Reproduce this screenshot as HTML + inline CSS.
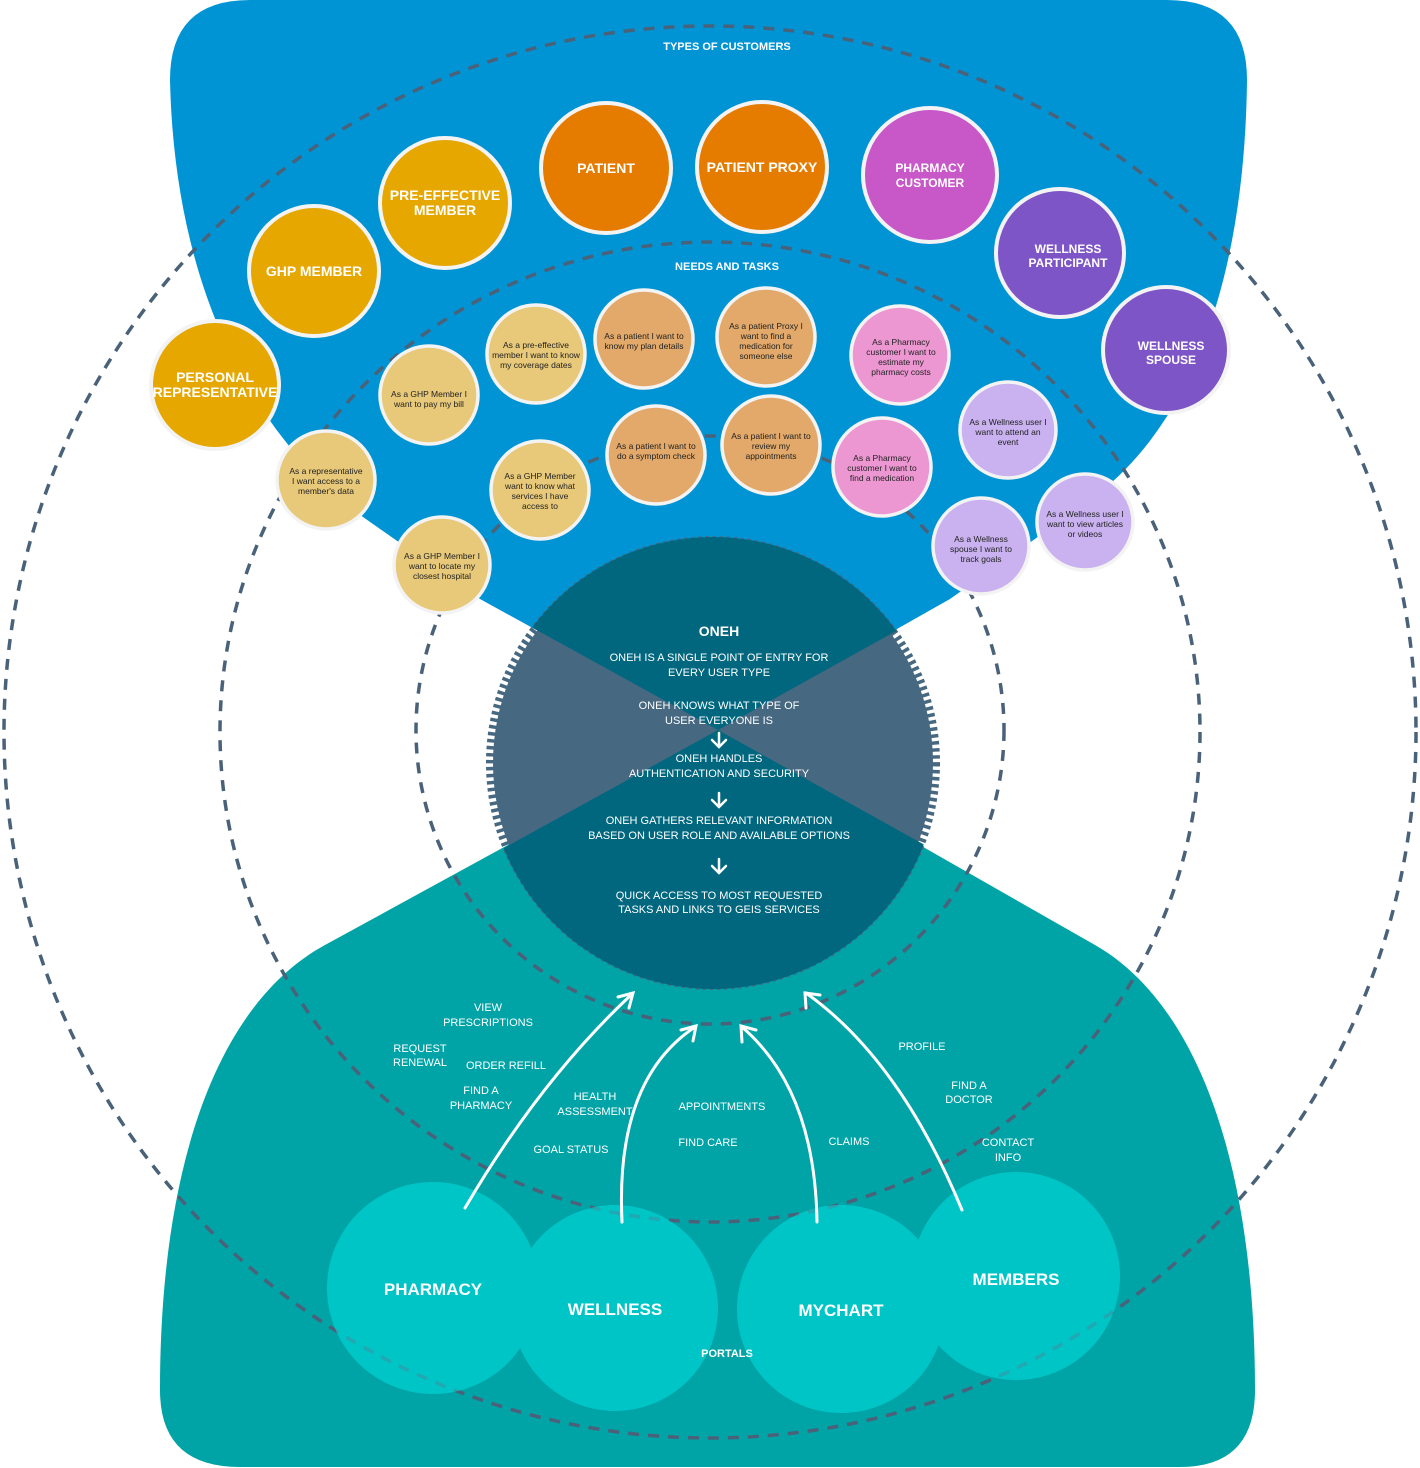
<!DOCTYPE html>
<html><head><meta charset="utf-8"><style>
html,body{margin:0;padding:0;background:#fff;}
svg{display:block;}
text{font-family:"Liberation Sans",sans-serif;}
.w{fill:#fff;text-anchor:middle;}
.s{fill:#222;text-anchor:middle;font-size:8.5px;}
.l{fill:#fff;text-anchor:middle;font-size:11px;}
</style></head><body>
<svg width="1420" height="1468" viewBox="0 0 1420 1468" xmlns="http://www.w3.org/2000/svg">
<defs>
<clipPath id="cc"><circle cx="713" cy="763" r="226"/></clipPath>
</defs>
<!-- blue top -->
<path d="M170,80 Q170,0 250,0 L1167,0 Q1247,0 1247,80 C1245,260 1200,420 1090,500 L950,599 L718,730 L480,599 L363,517 C260,440 175,300 170,80 Z" fill="#0094d4"/>
<!-- teal bottom -->
<path d="M718,730 L1095,945 C1200,1005 1255,1170 1255,1390 Q1255,1467 1180,1467 L240,1467 Q160,1467 160,1390 C160,1170 215,1005 325,945 Z" fill="#00a3a6"/>
<!-- center circle -->
<circle cx="713" cy="763" r="220" fill="#476881"/>
<circle cx="713" cy="763" r="223" fill="none" stroke="#476881" stroke-width="8" stroke-dasharray="3.5 3.5"/>
<g clip-path="url(#cc)">
<path d="M718,730 L250,472 L250,400 L1200,400 L1200,462 Z" fill="#00677f"/>
<path d="M718,730 L250,988 L250,1100 L1200,1100 L1200,998 Z" fill="#00677f"/>
</g>
<!-- dashed circles -->
<g fill="none" stroke="#4a6279" stroke-width="3.5" stroke-dasharray="11 9">
<circle cx="710" cy="732" r="706"/>
<circle cx="710" cy="732" r="490"/>
<circle cx="710" cy="730" r="294"/>
</g>
<!-- portals -->
<g fill="#00e2e2" opacity="0.55">
<circle cx="433" cy="1288" r="106"/>
<circle cx="615" cy="1308" r="103"/>
<circle cx="841" cy="1309" r="104"/>
<circle cx="1016" cy="1276" r="104"/>
</g>
<g class="w" font-weight="bold" font-size="17">
<text x="433" y="1295">PHARMACY</text>
<text x="615" y="1315">WELLNESS</text>
<text x="841" y="1316">MYCHART</text>
<text x="1016" y="1285">MEMBERS</text>
</g>
<text class="w" x="727" y="1357" font-size="11" font-weight="bold">PORTALS</text>
<!-- arrows -->
<g fill="none" stroke="#fff" stroke-width="3" stroke-linecap="round">
<path d="M465,1208 Q540,1080 632,994"/><path d="M618,997 L633,993 L629,1008"/>
<path d="M622,1222 Q615,1080 695,1027"/><path d="M681,1030 L696,1026 L693,1041"/>
<path d="M817,1222 Q815,1090 742,1027"/><path d="M742,1042 L741,1026 L756,1030"/>
<path d="M962,1210 Q900,1060 806,993"/><path d="M806,1008 L805,993 L820,995"/>
</g>
<g class="l">
<text x="488" y="1011">VIEW</text><text x="488" y="1026">PRESCRIPTIONS</text>
<text x="420" y="1052">REQUEST</text><text x="420" y="1066">RENEWAL</text>
<text x="506" y="1069">ORDER REFILL</text>
<text x="481" y="1094">FIND A</text><text x="481" y="1109">PHARMACY</text>
<text x="595" y="1100">HEALTH</text><text x="595" y="1115">ASSESSMENT</text>
<text x="571" y="1153">GOAL STATUS</text>
<text x="722" y="1110">APPOINTMENTS</text>
<text x="708" y="1146">FIND CARE</text>
<text x="849" y="1145">CLAIMS</text>
<text x="922" y="1050">PROFILE</text>
<text x="969" y="1089">FIND A</text><text x="969" y="1103">DOCTOR</text>
<text x="1008" y="1146">CONTACT</text><text x="1008" y="1161">INFO</text>
</g>
<!-- center text -->
<g class="w" font-size="11">
<text x="719" y="636" font-size="14" font-weight="bold">ONEH</text>
<text x="719" y="661">ONEH  IS A SINGLE POINT OF ENTRY FOR</text>
<text x="719" y="676">EVERY USER TYPE</text>
<text x="719" y="709">ONEH KNOWS WHAT TYPE OF</text>
<text x="719" y="724">USER EVERYONE IS</text>
<text x="719" y="762">ONEH HANDLES</text>
<text x="719" y="777">AUTHENTICATION AND SECURITY</text>
<text x="719" y="824">ONEH GATHERS RELEVANT INFORMATION</text>
<text x="719" y="839">BASED ON USER ROLE AND AVAILABLE OPTIONS</text>
<text x="719" y="899">QUICK ACCESS TO MOST REQUESTED</text>
<text x="719" y="913">TASKS AND LINKS TO GEIS SERVICES</text>
</g>
<g fill="none" stroke="#fff" stroke-width="2.5" stroke-linecap="round">
<path d="M719,733 V746 M712,740 L719,747 L726,740"/>
<path d="M719,793 V806 M712,800 L719,807 L726,800"/>
<path d="M719,859 V872 M712,866 L719,873 L726,866"/>
</g>
<!-- headings -->
<text class="w" x="727" y="50" font-size="11" font-weight="bold">TYPES OF CUSTOMERS</text>
<text class="w" x="727" y="270" font-size="11" font-weight="bold">NEEDS AND TASKS</text>
<!-- customers -->
<g stroke="#f3f3f3" stroke-width="4">
<circle cx="215" cy="385" r="64" fill="#e5a700"/>
<circle cx="314" cy="271" r="65" fill="#e5a700"/>
<circle cx="445" cy="203" r="65" fill="#e5a700"/>
<circle cx="606" cy="168" r="65" fill="#e57c00"/>
<circle cx="762" cy="167" r="65" fill="#e57c00"/>
<circle cx="930" cy="175" r="67" fill="#c857c8"/>
<circle cx="1060" cy="253" r="64" fill="#7d55c6"/>
<circle cx="1166" cy="350" r="63" fill="#7d55c6"/>
</g>
<g class="w" font-weight="bold" font-size="14">
<text x="215" y="382">PERSONAL</text><text x="215" y="397">REPRESENTATIVE</text>
<text x="314" y="276">GHP MEMBER</text>
<text x="445" y="200">PRE-EFFECTIVE</text><text x="445" y="215">MEMBER</text>
<text x="606" y="173">PATIENT</text>
<text x="762" y="172">PATIENT PROXY</text>
<text x="930" y="172" font-size="12">PHARMACY</text><text x="930" y="187" font-size="12">CUSTOMER</text>
<text x="1068" y="253" font-size="12">WELLNESS</text><text x="1068" y="267" font-size="12">PARTICIPANT</text>
<text x="1171" y="350" font-size="12">WELLNESS</text><text x="1171" y="364" font-size="12">SPOUSE</text>
</g>
<!-- needs -->
<g stroke="#f3f3f3" stroke-width="3.5">
<circle cx="326" cy="480" r="49" fill="#e8c97a"/>
<circle cx="429" cy="395" r="49" fill="#e8c97a"/>
<circle cx="536" cy="354" r="49" fill="#e8c97a"/>
<circle cx="540" cy="490" r="49" fill="#e8c97a"/>
<circle cx="442" cy="565" r="48" fill="#e8c97a"/>
<circle cx="644" cy="339" r="49" fill="#e2a96a"/>
<circle cx="766" cy="337" r="49" fill="#e2a96a"/>
<circle cx="656" cy="455" r="49" fill="#e2a96a"/>
<circle cx="771" cy="445" r="49" fill="#e2a96a"/>
<circle cx="900" cy="355" r="49" fill="#ec97d2"/>
<circle cx="882" cy="467" r="49" fill="#ec97d2"/>
<circle cx="1008" cy="430" r="48" fill="#c9b2ef"/>
<circle cx="981" cy="546" r="48" fill="#c9b2ef"/>
<circle cx="1085" cy="522" r="48" fill="#c9b2ef"/>
</g>
<g class="s">
<text x="326" y="474">As a representative</text><text x="326" y="484">I want access to a</text><text x="326" y="494">member's data</text>
<text x="429" y="397">As a GHP Member I</text><text x="429" y="407">want to pay my bill</text>
<text x="536" y="348">As a pre-effective</text><text x="536" y="358">member I want to know</text><text x="536" y="368">my coverage dates</text>
<text x="540" y="479">As a GHP Member</text><text x="540" y="489">want to know what</text><text x="540" y="499">services I have</text><text x="540" y="509">access to</text>
<text x="442" y="559">As a GHP Member I</text><text x="442" y="569">want to locate my</text><text x="442" y="579">closest hospital</text>
<text x="644" y="339">As a patient I want to</text><text x="644" y="349">know my plan details</text>
<text x="766" y="329">As a patient Proxy I</text><text x="766" y="339">want to find a</text><text x="766" y="349">medication for</text><text x="766" y="359">someone else</text>
<text x="656" y="449">As a patient I want to</text><text x="656" y="459">do a symptom check</text>
<text x="771" y="439">As a patient I want to</text><text x="771" y="449">review my</text><text x="771" y="459">appointments</text>
<text x="901" y="345">As a Pharmacy</text><text x="901" y="355">customer I want to</text><text x="901" y="365">estimate my</text><text x="901" y="375">pharmacy costs</text>
<text x="882" y="461">As a Pharmacy</text><text x="882" y="471">customer I want to</text><text x="882" y="481">find a medication</text>
<text x="1008" y="425">As a Wellness user I</text><text x="1008" y="435">want to attend an</text><text x="1008" y="445">event</text>
<text x="981" y="542">As a Wellness</text><text x="981" y="552">spouse I want to</text><text x="981" y="562">track goals</text>
<text x="1085" y="517">As a Wellness user I</text><text x="1085" y="527">want to view articles</text><text x="1085" y="537">or videos</text>
</g>
</svg>
</body></html>
